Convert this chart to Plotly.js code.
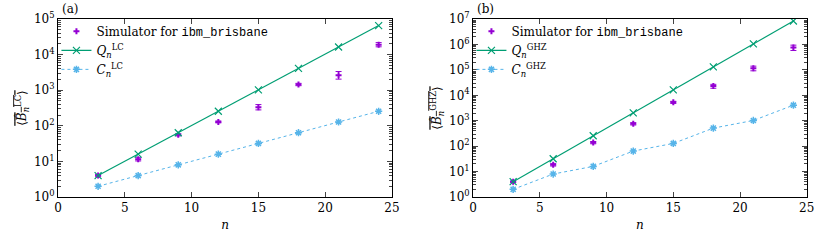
<!DOCTYPE html>
<html><head><meta charset="utf-8">
<script src="https://cdn.plot.ly/plotly-3.0.1.min.js"></script>
<style>html,body{margin:0;padding:0;background:#fff}#c{width:830px;height:241px}</style>
</head><body><div id="c"></div>
<script>
// ---- data ----
const n = [3, 6, 9, 12, 15, 18, 21, 24];
// (a) LC
const simLC = [4, 11.5, 56, 129, 335, 1450, 2650, 19000];
const simLCerrPlus = [0.3, 1.2, 4, 8, 60, 110, 700, 2800];
const simLCerrMinus = [0.3, 1.2, 4, 8, 55, 110, 600, 2400];
const qLC = [4, 16, 64, 256, 1024, 4096, 16384, 65536];
const cLC = [2, 4, 8, 16, 32, 64, 128, 256];
// (b) GHZ
const simGHZ = [4, 18.5, 138, 760, 5300, 23000, 115000, 760000];
const simGHZerrPlus = [0.3, 2, 14, 80, 500, 4000, 25000, 180000];
const simGHZerrMinus = [0.3, 2, 14, 80, 500, 4000, 23000, 180000];
const qGHZ = [4, 32, 256, 2048, 16384, 131072, 1048576, 8388608];
const cGHZ = [2, 8, 16, 64, 128, 512, 1024, 4096];
// tick labels
const xTickVals = [0, 5, 10, 15, 20, 25];
const yTickValsLC = [1, 10, 100, 1000, 10000, 100000];
const yTickTextLC = ['10<sup>0</sup>','10<sup>1</sup>','10<sup>2</sup>','10<sup>3</sup>','10<sup>4</sup>','10<sup>5</sup>'];
const yTickValsGHZ = [1, 10, 100, 1000, 10000, 100000, 1e6, 1e7];
const yTickTextGHZ = ['10<sup>0</sup>','10<sup>1</sup>','10<sup>2</sup>','10<sup>3</sup>','10<sup>4</sup>','10<sup>5</sup>','10<sup>6</sup>','10<sup>7</sup>'];
const simName = 'Simulator for <span style="font-family:\'Liberation Mono\'">ibm_brisbane</span>';

const purple = '#9400d3', green = '#009e73', blue = '#56b4e9';
const serif = "'DejaVu Serif'";

function sim(y, ep, em, xa, ya, lg){
  return {x:n, y:y, xaxis:xa, yaxis:ya, legend:lg, type:'scatter', mode:'markers', name:simName,
    marker:{symbol:'cross', size:5, color:purple},
    error_y:{type:'data', array:ep, arrayminus:em, color:purple, thickness:1, width:3}};
}
function q(y, nm, xa, ya, lg){
  return {x:n, y:y, xaxis:xa, yaxis:ya, legend:lg, type:'scatter', mode:'lines+markers', name:nm,
    line:{color:green, width:1.2}, marker:{symbol:'x-thin', size:7, line:{color:green, width:1.2}}};
}
function c(y, nm, xa, ya, lg){
  return {x:n, y:y, xaxis:xa, yaxis:ya, legend:lg, type:'scatter', mode:'lines+markers', name:nm,
    line:{color:blue, width:1, dash:'dot'}, marker:{symbol:'asterisk-open', size:6, line:{color:blue, width:1.5}}};
}
const traces = [
  sim(simLC, simLCerrPlus, simLCerrMinus, 'x', 'y', 'legend'),
  q(qLC, '<i>Q</i><sub><i>n</i></sub><sup>LC</sup>', 'x', 'y', 'legend'),
  c(cLC, '<i>C</i><sub><i>n</i></sub><sup>LC</sup>', 'x', 'y', 'legend'),
  sim(simGHZ, simGHZerrPlus, simGHZerrMinus, 'x2', 'y2', 'legend2'),
  q(qGHZ, '<i>Q</i><sub><i>n</i></sub><sup>GHZ</sup>', 'x2', 'y2', 'legend2'),
  c(cGHZ, '<i>C</i><sub><i>n</i></sub><sup>GHZ</sup>', 'x2', 'y2', 'legend2')
];
const xbase = {range:[0,25], tickvals:xTickVals, ticks:'inside', ticklen:5, mirror:'allticks', showline:true,
  linecolor:'#000', linewidth:1, showgrid:false, zeroline:false, tickfont:{size:12, family:serif, color:'#000'},
  title:{text:'<i>n</i>', font:{size:12, family:serif, color:'#000'}, standoff:6}};
function ybase(r, tv, tt, title){
  return {type:'log', range:r, tickvals:tv, ticktext:tt, ticks:'inside', ticklen:5, mirror:'allticks', showline:true,
    linecolor:'#000', linewidth:1, showgrid:false, zeroline:false, tickfont:{size:12, family:serif, color:'#000'},
    minor:{ticks:'inside', ticklen:3, dtick:'D1', showgrid:false},
    title:{text:title, font:{size:12, family:serif, color:'#000'}, standoff:4}};
}
const layout = {
  width:830, height:241, margin:{l:0, r:0, t:0, b:0}, paper_bgcolor:'#fff', plot_bgcolor:'#fff',
  font:{family:serif, color:'#000', size:12},
  xaxis: Object.assign({}, xbase, {domain:[0.0699, 0.4723], anchor:'y'}),
  yaxis: Object.assign(ybase([0,5], yTickValsLC, yTickTextLC, '<span style="text-decoration:overline">⟨<i>B̂</i><sub><i>n</i></sub><sup>LC</sup>⟩</span>'), {domain:[0.1826, 0.921], anchor:'x'}),
  xaxis2: Object.assign({}, xbase, {domain:[0.570, 0.972], anchor:'y2'}),
  yaxis2: Object.assign(ybase([0,7], yTickValsGHZ, yTickTextGHZ, '<span style="text-decoration:overline">⟨<i>B̂</i><sub><i>n</i></sub><sup>GHZ</sup>⟩</span>'), {domain:[0.1826, 0.921], anchor:'x2'}),
  legend:{x:0.068, y:0.93, xanchor:'left', yanchor:'top', bgcolor:'rgba(0,0,0,0)', font:{size:12, family:serif}, tracegroupgap:0, itemwidth:30},
  legend2:{x:0.568, y:0.93, xanchor:'left', yanchor:'top', bgcolor:'rgba(0,0,0,0)', font:{size:12, family:serif}, tracegroupgap:0, itemwidth:30},
  annotations:[
    {text:'(a)', x:0.072, y:1, xref:'paper', yref:'paper', xanchor:'left', yanchor:'top', showarrow:false, font:{size:12, family:serif}},
    {text:'(b)', x:0.572, y:1, xref:'paper', yref:'paper', xanchor:'left', yanchor:'top', showarrow:false, font:{size:12, family:serif}}
  ],
  showlegend:true
};
Plotly.newPlot('c', traces, layout, {displayModeBar:false, staticPlot:true});
</script></body></html>
